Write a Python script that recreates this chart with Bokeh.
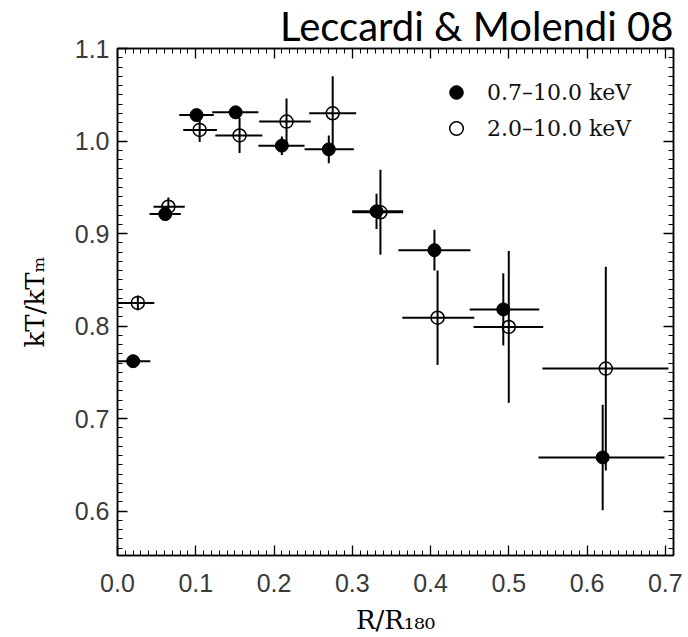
import numpy as np
from bokeh.plotting import figure
from bokeh.models import (Range1d, SingleIntervalTicker, LinearAxis, PrintfTickFormatter,
                          CustomJSTickFormatter, Legend, LegendItem, ColumnDataSource, Title)
from bokeh.embed import file_html
from bokeh.resources import INLINE

# ---------------- data ----------------
title_text = "Leccardi & Molendi 08"
series_names = ["0.7–10.0 keV", "2.0–10.0 keV"]
x_label = "R/R₁₈₀"
y_label = "kT/kTₘ"

# 0.7-10.0 keV (filled)
full_x = [0.020, 0.061, 0.101, 0.151, 0.210, 0.270, 0.331, 0.405, 0.493, 0.620]
full_y = [0.762, 0.921, 1.028, 1.031, 0.995, 0.991, 0.924, 0.882, 0.818, 0.658]
full_xlo = [0.000, 0.041, 0.079, 0.121, 0.180, 0.239, 0.300, 0.359, 0.450, 0.538]
full_xhi = [0.042, 0.081, 0.123, 0.180, 0.239, 0.302, 0.365, 0.451, 0.539, 0.699]
full_yerr = [0.004, 0.005, 0.006, 0.007, 0.010, 0.015, 0.019, 0.022, 0.039, 0.057]

# 2.0-10.0 keV (open)
hard_x = [0.026, 0.065, 0.105, 0.156, 0.216, 0.275, 0.336, 0.409, 0.500, 0.624]
hard_y = [0.825, 0.929, 1.012, 1.006, 1.021, 1.030, 0.923, 0.809, 0.799, 0.754]
hard_xlo = [0.000, 0.046, 0.084, 0.125, 0.181, 0.245, 0.300, 0.364, 0.455, 0.543]
hard_xhi = [0.047, 0.086, 0.127, 0.185, 0.247, 0.305, 0.365, 0.456, 0.544, 0.704]
hard_yerr = [0.008, 0.010, 0.013, 0.019, 0.025, 0.040, 0.046, 0.051, 0.082, 0.110]


def make_source(x, y, xlo, xhi, yerr):
    y = np.asarray(y)
    e = np.asarray(yerr)
    return ColumnDataSource(dict(x=x, y=y, xlo=xlo, xhi=xhi, ylo=y - e, yhi=y + e))


src_full = make_source(full_x, full_y, full_xlo, full_xhi, full_yerr)
src_hard = make_source(hard_x, hard_y, hard_xlo, hard_xhi, hard_yerr)

p = figure(width=688, height=637, output_backend="svg", toolbar_location=None,
           x_range=Range1d(0, 0.7105), y_range=Range1d(0.552, 1.1),
           x_axis_type=None, y_axis_type=None,
           min_border_left=117, min_border_right=15, min_border_top=48, min_border_bottom=82)
p.outline_line_color = "black"
p.outline_line_width = 1.5
p.background_fill_color = "white"
p.border_fill_color = "white"

p.title = Title(text=title_text, align="right", text_font="Lato", text_font_size="40px",
                text_font_style="normal", text_color="black", standoff=-3, offset=0)

xticker = SingleIntervalTicker(interval=0.1, num_minor_ticks=10)
yticker = SingleIntervalTicker(interval=0.1, num_minor_ticks=10)
blank = CustomJSTickFormatter(code="return ''")


def style(ax, standoff, font_size="25px"):
    ax.axis_line_color = "black"
    ax.axis_line_width = 1.5
    ax.major_tick_in = 10
    ax.major_tick_out = 0
    ax.minor_tick_in = 5
    ax.minor_tick_out = 0
    ax.major_tick_line_color = "black"
    ax.minor_tick_line_color = "black"
    ax.major_tick_line_width = 1.3
    ax.minor_tick_line_width = 1
    ax.major_label_standoff = standoff
    ax.major_label_text_font = "Liberation Sans"
    ax.major_label_text_font_size = font_size
    ax.major_label_text_color = "#3a3a3a"
    ax.axis_label_text_font = "DejaVu Serif"
    ax.axis_label_text_font_size = "26px"
    ax.axis_label_text_font_style = "normal"
    ax.axis_label_text_color = "black"


xb = LinearAxis(ticker=xticker, formatter=PrintfTickFormatter(format="%.1f"), axis_label=x_label)
style(xb, 18)
xb.axis_label_standoff = 10
yl = LinearAxis(ticker=yticker, formatter=PrintfTickFormatter(format="%.1f"), axis_label=y_label)
style(yl, 8)
yl.axis_label_standoff = 22
xa = LinearAxis(ticker=xticker, formatter=blank)
style(xa, 0, "0px")
yr = LinearAxis(ticker=yticker, formatter=blank)
style(yr, 0, "0px")
p.add_layout(xb, "below")
p.add_layout(yl, "left")
p.add_layout(xa, "above")
p.add_layout(yr, "right")

# error bars
for src in (src_full, src_hard):
    p.segment(x0="xlo", y0="y", x1="xhi", y1="y", source=src, line_color="black", line_width=2)
    p.segment(x0="x", y0="ylo", x1="x", y1="yhi", source=src, line_color="black", line_width=2)

r_full = p.scatter("x", "y", source=src_full, marker="circle", size=13,
                   fill_color="black", line_color="black", line_width=1)
r_hard = p.scatter("x", "y", source=src_hard, marker="circle", size=13,
                   fill_alpha=0, line_color="black", line_width=1.5)

legend = Legend(items=[LegendItem(label=series_names[0], renderers=[r_full]),
                       LegendItem(label=series_names[1], renderers=[r_hard])],
                location=(322, 410), padding=0, margin=0, spacing=2,
                glyph_width=34, glyph_height=34, label_height=34, label_standoff=14,
                border_line_alpha=0, background_fill_alpha=0,
                label_text_font="DejaVu Serif", label_text_font_size="22px",
                label_text_color="#111111")
p.add_layout(legend)

open("out.html", "w").write(file_html(p, INLINE))
